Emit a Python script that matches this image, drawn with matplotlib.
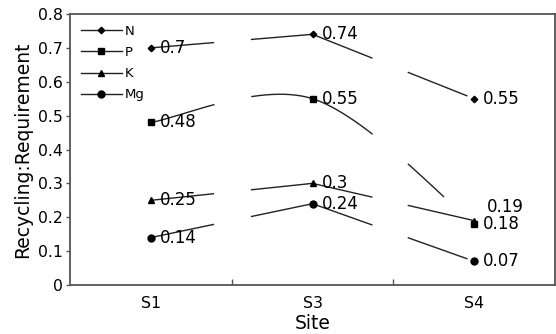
import numpy as np
import matplotlib
matplotlib.use("Agg")
import matplotlib.pyplot as plt
from matplotlib.ticker import FixedLocator, FuncFormatter

sites = ["S1", "S3", "S4"]
series_names = ["N", "P", "K", "Mg"]
N = [0.70, 0.74, 0.55]
P = [0.48, 0.55, 0.18]
K = [0.25, 0.30, 0.19]
Mg = [0.14, 0.24, 0.07]
labels_N = ["0.7", "0.74", "0.55"]
labels_P = ["0.48", "0.55", "0.18"]
labels_K = ["0.25", "0.3", "0.19"]
labels_Mg = ["0.14", "0.24", "0.07"]

markers = {"N": ("D", 3.3), "P": ("s", 4.6), "K": ("^", 5.0), "Mg": ("o", 5.0)}
smoothed = {"N": False, "P": True, "K": False, "Mg": False}
common_gaps = [(0.39, 0.62), (1.37, 1.59)]
extra_gaps = {"N": [(1.955, 2.01)], "P": [(1.81, 2.01)], "K": [], "Mg": [(1.957, 2.01)]}

plt.rcParams["font.family"] = ["DejaVu Sans"]
fig = plt.figure(figsize=(5.56, 3.34), dpi=100)
ax = fig.add_axes([70/556, 1-285/334, 485/556, (285-14)/334])

x = np.arange(len(sites), dtype=float)


def curve(xs, ys, smooth, n=200):
    pts = np.column_stack([xs, ys])
    outx, outy = [], []
    m = len(pts)
    for i in range(m - 1):
        p1 = pts[i]
        p2 = pts[i + 1]
        if smooth:
            p0 = pts[i - 1] if i > 0 else pts[i]
            p3 = pts[i + 2] if i + 2 < m else pts[i + 1]
            c1 = p1 + (p2 - p0) / 6.0
            c2 = p2 - (p3 - p1) / 6.0
        else:
            c1 = p1 + (p2 - p1) / 3.0
            c2 = p1 + 2 * (p2 - p1) / 3.0
        t = np.linspace(0, 1, n)[:, None]
        b = (1-t)**3*p1 + 3*(1-t)**2*t*c1 + 3*(1-t)*t**2*c2 + t**3*p2
        outx.append(b[:, 0]); outy.append(b[:, 1])
    return np.concatenate(outx), np.concatenate(outy)


data = {"N": N, "P": P, "K": K, "Mg": Mg}
labs = {"N": labels_N, "P": labels_P, "K": labels_K, "Mg": labels_Mg}
handles = []
for name in series_names:
    ys = np.array(data[name], dtype=float)
    sx, sy = curve(x, ys, smoothed[name])
    sy = sy.copy()
    for a, b in common_gaps + extra_gaps[name]:
        sy[(sx > a) & (sx < b)] = np.nan
    ax.plot(sx, sy, color="#222222", lw=1.0, zorder=2)
    mk, ms = markers[name]
    ax.plot(x, ys, linestyle="none", marker=mk, ms=ms, color="black", zorder=3)
    h, = ax.plot([], [], color="#222222", lw=1.0, marker=mk, ms=ms, mfc="black", mec="black")
    handles.append(h)
    for i, (xv, yv) in enumerate(zip(x, ys)):
        off = (6.5, 0)
        if name == "K" and i == 2:
            off = (9.5, 10)
        ax.annotate(labs[name][i], (xv, yv), xytext=off, textcoords="offset points",
                    ha="left", va="center", fontsize=12, color="black", zorder=4)

ax.set_xlim(-0.5, 2.5)
ax.set_ylim(0, 0.8)
ax.set_xticks(x)
ax.set_xticklabels(sites, fontsize=11.3)
ax.tick_params(axis="x", which="major", length=0, pad=8)
ax.xaxis.set_minor_locator(FixedLocator([0.5, 1.5]))
ax.tick_params(axis="x", which="minor", direction="in", length=4, width=1, color="#555555")
ax.set_yticks(np.arange(0, 0.81, 0.1))
ax.yaxis.set_major_formatter(FuncFormatter(lambda v, p: "0" if abs(v) < 1e-9 else "%g" % round(v, 2)))
ax.tick_params(axis="y", direction="out", length=3, width=1, color="#555555", labelsize=11.3, pad=2)
for s in ax.spines.values():
    s.set_color("#555555")
    s.set_linewidth(1.3)

ax.set_xlabel("Site", fontsize=13.5, labelpad=2)
ax.set_ylabel("Recycling:Requirement", fontsize=13.5, labelpad=4)

leg = ax.legend(handles, series_names, loc="upper left", bbox_to_anchor=(0.022, 0.96),
                frameon=False, fontsize=9.5, handlelength=3.1, handletextpad=0.25,
                labelspacing=0.62, borderaxespad=0, borderpad=0)

fig.savefig("out.png", dpi=100)
